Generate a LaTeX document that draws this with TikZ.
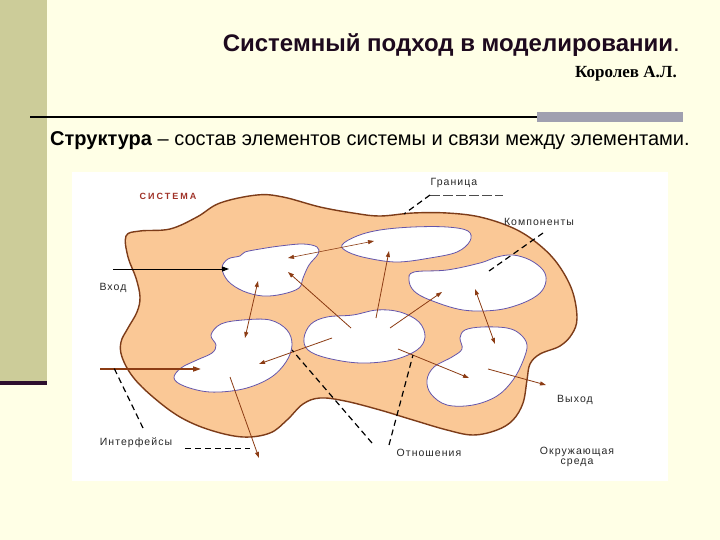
\documentclass[tikz,border=0pt]{standalone}
\usepackage{fontspec}
\setmainfont{Liberation Sans}
\newfontfamily\timesf{Liberation Serif}
\newfontfamily\labfont[LetterSpace=10]{Liberation Sans}
\newfontfamily\sysfont[LetterSpace=22]{Liberation Sans}
\usetikzlibrary{arrows.meta}
\definecolor{cream}{RGB}{255,255,230}
\definecolor{khaki}{RGB}{204,204,153}
\definecolor{darkpurp}{RGB}{45,15,45}
\definecolor{titlec}{RGB}{30,10,30}
\definecolor{greybar}{RGB}{160,160,176}
\definecolor{peach}{RGB}{250,200,150}
\definecolor{brownline}{RGB}{125,60,25}
\definecolor{compline}{RGB}{100,85,170}
\definecolor{arrowc}{RGB}{140,60,20}
\definecolor{sysred}{RGB}{160,50,40}
\definecolor{labgrey}{RGB}{40,40,40}
\tikzset{
  comp/.style={fill=white, draw=compline, line width=0.8pt},
  rel/.style={draw=arrowc, line width=0.8pt, -{Triangle[length=6pt,width=4pt]}},
  relboth/.style={draw=arrowc, line width=0.8pt, {Triangle[length=6pt,width=4pt]}-{Triangle[length=6pt,width=4pt]}},
  lead/.style={draw=black, line width=1.2pt, dash pattern=on 6pt off 4pt},
  thinlead/.style={draw=black!70, line width=0.5pt, dash pattern=on 10pt off 3pt},
  lab/.style={font=\labfont\fontsize{10.5}{11}\selectfont, text=labgrey, inner sep=1pt},
}
\begin{document}
\begin{tikzpicture}[x=1pt,y=-1pt]
\useasboundingbox (0,0) rectangle (720,540);
\fill[cream] (0,0) rectangle (720,540);
\fill[khaki] (0,0) rectangle (47,381);
\fill[darkpurp] (0,381) rectangle (47,385);

% header
\node[anchor=base east, font=\fontsize{24}{26}\selectfont\bfseries, text=titlec, inner sep=0pt] (title) at (680,52) {Системный подход в моделировании\mdseries.};
\node[anchor=base east, font=\timesf\fontsize{17}{19}\selectfont\bfseries, inner sep=0pt] (author) at (677,78) {Королев А.Л.};
\draw[line width=2pt] (30,117) -- (540,117);
\fill[greybar] (537,112) rectangle (683,122);
\node[anchor=base west, font=\fontsize{20}{22}\selectfont, inner sep=0pt] (struct) at (50,146) {\textbf{Структура} – состав элементов системы и связи между элементами.};

% panel
\fill[white] (72,172) rectangle (668,481);

% system blob
\draw[fill=peach, draw=brownline, line width=1.4pt] plot[smooth cycle, tension=0.6] coordinates {
 (126,236) (140,231) (170,229) (197,217) (220,203) (257,195) (283,197) (320,207) (353,213) (380,216)
 (413,213) (447,213) (480,217) (513,228) (537,243) (557,263) (572,290) (577,318) (572,334) (560,346)
 (540,354) (530,364) (527,380) (523,403) (513,420) (497,430) (473,435) (447,430) (413,420) (380,410)
 (345,401) (320,398) (303,404) (287,420) (270,433) (243,437) (210,430) (180,417) (153,397) (133,377)
 (122,357) (121,342) (128,328) (137,312) (140,297) (136,278) (128,257)};

% components
\draw[comp] plot[smooth cycle, tension=0.6] coordinates {
 (222,268) (228,259) (240,256) (245,252) (260,249) (280,246) (303,244) (317,247) (318,254) (309,265)
 (303,278) (299,288) (283,294) (263,296) (243,291) (228,281)};
\draw[comp] plot[smooth cycle, tension=0.6] coordinates {
 (342,245) (357,236) (380,230) (413,227) (447,227) (468,231) (470,241) (457,252) (430,258) (397,262)
 (367,258) (348,252)};
\draw[comp] plot[smooth cycle, tension=0.6] coordinates {
 (409,280) (414,272) (447,270) (480,263) (497,257) (513,255) (530,260) (543,270) (546,281) (540,293)
 (523,303) (497,310) (463,310) (430,300) (414,291)};
\draw[comp] plot[smooth cycle, tension=0.6] coordinates {
 (304,338) (311,324) (327,317) (353,315) (377,310) (400,312) (419,322) (425,337) (417,350) (393,360)
 (360,363) (327,358) (308,350)};
\draw[comp] plot[smooth cycle, tension=0.6] coordinates {
 (211,335) (221,324) (243,320) (270,320) (287,330) (292,345) (286,362) (270,378) (243,389) (210,392)
 (184,386) (174,378) (181,368) (197,360) (212,353) (216,345)};
\draw[comp] plot[smooth cycle, tension=0.6] coordinates {
 (460,338) (465,330) (482,327) (507,328) (520,334) (527,345) (523,361) (513,380) (497,396) (473,405)
 (447,405) (431,394) (427,380) (434,367) (452,357) (462,349)};

% named coordinates for relations
\coordinate (c5top) at (245,338);
\coordinate (c1bot) at (258,281);
\coordinate (c4a) at (351,328);
\coordinate (c1mid) at (288,272);
\coordinate (c4b) at (376,318);
\coordinate (c2bot) at (389,251);
\coordinate (c4c) at (390,328);
\coordinate (c3left) at (442,292);
\coordinate (c1r) at (288,258);
\coordinate (c2l) at (374,241);
\coordinate (c4d) at (332,338);
\coordinate (c5r) at (259,364);
\coordinate (c3mid) at (475,289);
\coordinate (c6top) at (495,344);
\coordinate (c4e) at (398,349);
\coordinate (c6mid) at (469,378);
\coordinate (c6r) at (488,369);
\coordinate (outp) at (546,385);
\coordinate (c5b) at (230,377);
\coordinate (envp) at (259,458);
\coordinate (inB) at (100,369);
\coordinate (c5l) at (201,369);
\coordinate (inA) at (113,269);
\coordinate (c1l) at (229,269);

\draw[relboth] (c5top) -- (c1bot);
\draw[rel] (c4a) -- (c1mid);
\draw[rel] (c4b) -- (c2bot);
\draw[rel] (c4c) -- (c3left);
\draw[relboth, line width=0.6pt] (c1r) -- (c2l);
\draw[rel] (c4d) -- (c5r);
\draw[relboth] (c3mid) -- (c6top);
\draw[rel] (c4e) -- (c6mid);
\draw[rel] (c6r) -- (outp);
\draw[rel] (c5b) -- (envp);
\draw[draw=arrowc, line width=1.6pt, -{Triangle[length=8pt,width=5pt]}] (inB) -- (c5l);
\draw[draw=black, line width=1pt, -{Triangle[length=7pt,width=5pt]}] (inA) -- (c1l);

% labels
\node[font=\sysfont\fontsize{9}{10}\selectfont\bfseries, text=sysred] (sys) at (168,196) {СИСТЕМА};
\node[lab] (gran) at (454,183) {Граница};
\node[lab] (komp) at (539,222) {Компоненты};
\node[lab] (vhod) at (113,288) {Вход};
\node[lab] (intf) at (136,443) {Интерфейсы};
\node[lab] (otn) at (429,453) {Отношения};
\node[lab] (vyh) at (575,400) {Выход};
\node[lab, align=center, font=\labfont\fontsize{10.5}{10.5}\selectfont] (okr) at (577,457) {Окружающая\\среда};

% leaders
\coordinate (g1) at (430,195);
\coordinate (g2) at (503,195);
\coordinate (gb) at (404,214);
\draw[thinlead] (g1) -- (g2);
\draw[lead] (g1) -- (gb);
\coordinate (k1) at (543,233);
\coordinate (k2) at (489,271);
\draw[lead] (k1) -- (k2);
\coordinate (i1) at (143,428);
\coordinate (i2) at (114,368);
\draw[lead] (i1) -- (i2);
\coordinate (i3) at (185,448);
\coordinate (i4) at (250,448);
\draw[lead, line width=1pt] (i3) -- (i4);
\coordinate (o1) at (372,443);
\coordinate (o2) at (292,350);
\draw[lead] (o1) -- (o2);
\coordinate (o3) at (389,445);
\coordinate (o4) at (413,355);
\draw[lead] (o3) -- (o4);
\end{tikzpicture}
\end{document}
